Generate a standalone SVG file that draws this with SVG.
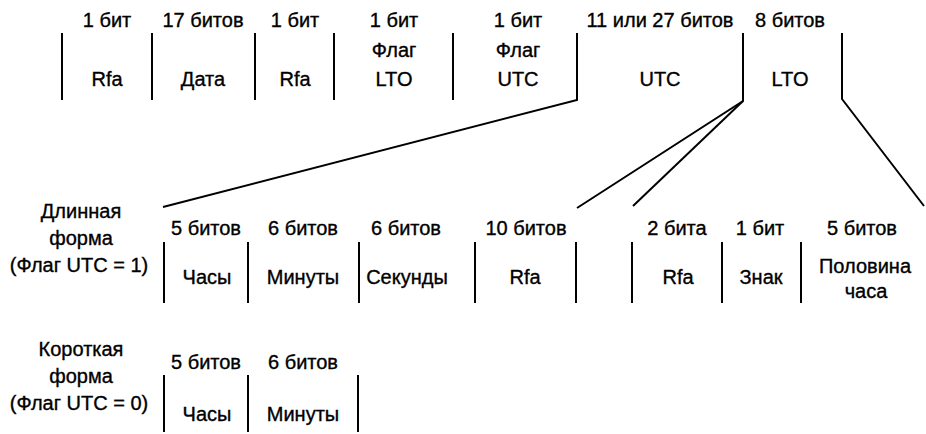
<svg xmlns="http://www.w3.org/2000/svg" width="926" height="434" viewBox="0 0 926 434">
<style>
text{font-family:"Liberation Sans",Arial,sans-serif;font-size:20px;fill:#000;stroke:#000;stroke-width:0.35;text-anchor:middle}
.sep,.con{stroke:#000;stroke-width:2;fill:none}
</style>
<rect width="926" height="434" fill="#fff"/>
<g id="top-row">
  <g id="sep-top" class="sep">
    <line x1="62" y1="33" x2="62" y2="100"/>
    <line x1="152" y1="33" x2="152" y2="100"/>
    <line x1="255" y1="33" x2="255" y2="100"/>
    <line x1="334" y1="33" x2="334" y2="100"/>
    <line x1="453" y1="33" x2="453" y2="100"/>
  </g>
  <g id="f-rfa1"><text x="107" y="27">1 бит</text><text x="107" y="86">Rfa</text></g>
  <g id="f-date"><text x="203" y="27">17 битов</text><text x="203" y="86">Дата</text></g>
  <g id="f-rfa2"><text x="295" y="27">1 бит</text><text x="295" y="86">Rfa</text></g>
  <g id="f-ltoflag"><text x="394" y="27">1 бит</text><text x="394" y="57">Флаг</text><text x="394" y="86">LTO</text></g>
  <g id="f-utcflag"><text x="518" y="27">1 бит</text><text x="518" y="57">Флаг</text><text x="518" y="86">UTC</text></g>
  <g id="f-utc"><text x="660" y="27">11 или 27 битов</text><text x="660" y="86">UTC</text></g>
  <g id="f-lto"><text x="790" y="27">8 битов</text><text x="790" y="86">LTO</text></g>
</g>
<g id="connectors" class="con">
  <polyline points="577,33 577,100 163,207"/>
  <polyline points="743,33 743,101 577,208"/>
  <line x1="743" y1="101" x2="633" y2="206"/>
  <polyline points="842,33 842,99 924,206"/>
</g>
<g id="long-form">
  <g id="long-label"><text x="81" y="218">Длинная</text><text x="81" y="245">форма</text><text x="79" y="272">(Флаг UTC = 1)</text></g>
  <g id="sep-long" class="sep">
    <line x1="164" y1="242" x2="164" y2="303"/>
    <line x1="248" y1="242" x2="248" y2="303"/>
    <line x1="359" y1="242" x2="359" y2="303"/>
    <line x1="475" y1="242" x2="475" y2="303"/>
    <line x1="576" y1="242" x2="576" y2="303"/>
    <line x1="632" y1="242" x2="632" y2="303"/>
    <line x1="722" y1="242" x2="722" y2="303"/>
    <line x1="801" y1="242" x2="801" y2="303"/>
  </g>
  <g id="l-hours"><text x="206" y="235">5 битов</text><text x="207" y="284">Часы</text></g>
  <g id="l-min"><text x="303" y="235">6 битов</text><text x="303" y="284">Минуты</text></g>
  <g id="l-sec"><text x="406" y="235">6 битов</text><text x="407" y="284">Секунды</text></g>
  <g id="l-rfa"><text x="526" y="235">10 битов</text><text x="525" y="284">Rfa</text></g>
  <g id="lto-rfa"><text x="677" y="235">2 бита</text><text x="678" y="284">Rfa</text></g>
  <g id="lto-sign"><text x="760" y="235">1 бит</text><text x="761" y="284">Знак</text></g>
  <g id="lto-half"><text x="862" y="235">5 битов</text><text x="865" y="273">Половина</text><text x="866" y="298">часа</text></g>
</g>
<g id="short-form">
  <g id="short-label"><text x="81" y="356">Короткая</text><text x="81" y="383">форма</text><text x="79" y="410">(Флаг UTC = 0)</text></g>
  <g id="sep-short" class="sep">
    <line x1="164" y1="375" x2="164" y2="432"/>
    <line x1="248" y1="375" x2="248" y2="432"/>
    <line x1="358" y1="375" x2="358" y2="432"/>
  </g>
  <g id="s-hours"><text x="206" y="369">5 битов</text><text x="207" y="421">Часы</text></g>
  <g id="s-min"><text x="303" y="369">6 битов</text><text x="303" y="421">Минуты</text></g>
</g>
</svg>
